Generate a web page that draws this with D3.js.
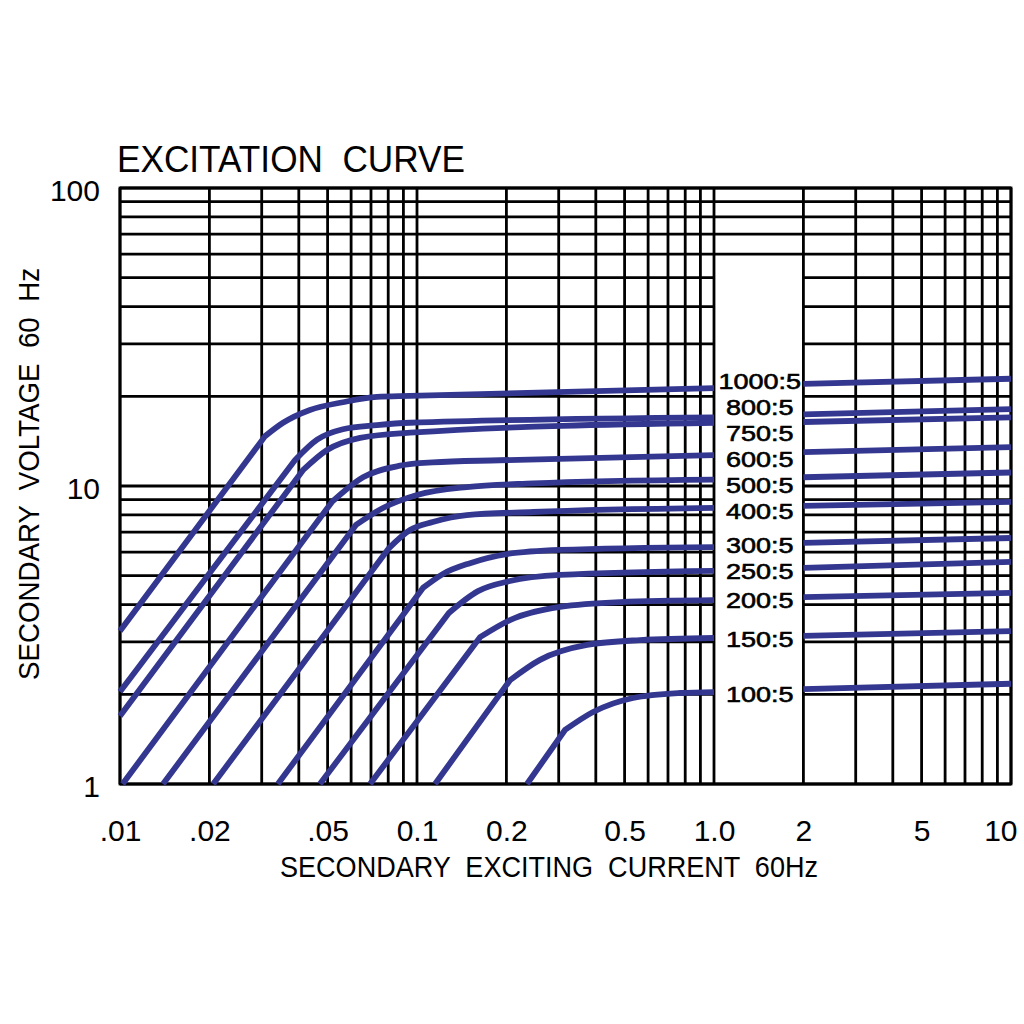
<!DOCTYPE html>
<html>
<head>
<meta charset="utf-8">
<script src="https://cdn.jsdelivr.net/npm/d3@7"></script>
<style>
  body { margin: 0; background: #fff; }
  text { font-family: "Liberation Sans", Arial, sans-serif; fill: #000; }
</style>
</head>
<body>
<svg id="chart" width="1024" height="1024"></svg>
<script>
// ---------------- DATA ----------------
const ratios = ["1000:5", "800:5", "750:5", "600:5", "500:5", "400:5", "300:5", "250:5", "200:5", "150:5", "100:5"];

// [secondary exciting current (A), secondary voltage (V)]; 2nd point = knee
const curve1000 = [[0.01, 3.26], [0.0308, 14.7], [0.0354, 16.3], [0.0436, 18.0], [0.0563, 19.1], [0.0733, 19.9], [0.0947, 20.05], [1, 21.3], [2, 22.0], [10, 22.9]];
const curve800  = [[0.01, 2.04], [0.0388, 12.2], [0.0461, 14.3], [0.0563, 15.5], [0.0733, 16.0], [0.0947, 16.3], [1, 17.0], [2, 17.4], [10, 18.1]];
const curve750  = [[0.01, 1.69], [0.0413, 11.3], [0.0498, 13.2], [0.0643, 14.5], [0.0947, 15.1], [1, 16.3], [2, 16.4], [10, 17.0]];
const curve600  = [[0.0102, 1], [0.0517, 8.84], [0.0658, 10.7], [0.0877, 11.7], [0.113, 12.0], [0.19, 12.2], [1, 12.7], [2, 13.0], [10, 13.5]];
const curve500  = [[0.01396, 1], [0.0623, 7.40], [0.0768, 8.44], [0.1, 9.33], [0.147, 9.92], [0.246, 10.2], [1, 10.5], [2, 10.7], [10, 11.1]];
const curve400  = [[0.0206, 1], [0.0805, 6.19], [0.0947, 7.12], [0.113, 7.57], [0.147, 7.99], [0.246, 8.18], [1, 8.44], [2, 8.57], [10, 8.84]];
const curve300  = [[0.034, 1], [0.1047, 4.55], [0.1223, 5.07], [0.1509, 5.51], [0.2009, 5.91], [0.303, 6.10], [1, 6.24], [2, 6.44], [10, 6.69]];
const curve250  = [[0.0471, 1], [0.128, 3.75], [0.1605, 4.44], [0.2056, 4.80], [0.303, 5.03], [1, 5.19], [2, 5.31], [10, 5.56]];
const curve200  = [[0.0695, 1], [0.163, 3.11], [0.2056, 3.55], [0.303, 3.93], [0.4826, 4.08], [1, 4.14], [2, 4.24], [10, 4.38]];
const curve150  = [[0.115, 1], [0.2056, 2.23], [0.2595, 2.61], [0.3736, 2.93], [0.563, 3.04], [1, 3.09], [2, 3.14], [10, 3.26]];
const curve100  = [[0.2346, 1], [0.315, 1.518], [0.3915, 1.744], [0.5337, 1.944], [0.768, 2.02], [1, 2.035], [2, 2.08], [10, 2.17]];

const seriesValues = [curve1000, curve800, curve750, curve600, curve500, curve400, curve300, curve250, curve200, curve150, curve100];

const xTickValues = [0.01, 0.02, 0.05, 0.1, 0.2, 0.5, 1, 2, 5, 10];
const xTickLabels = [".01", ".02", ".05", "0.1", "0.2", "0.5", "1.0", "2", "5", "10"];
const yTickValues = [1, 10, 100];
const yTickLabels = ["1", "10", "100"];

const titleText = "EXCITATION  CURVE";
const xTitleText = "SECONDARY  EXCITING  CURRENT  60Hz";
const yTitleText = "SECONDARY  VOLTAGE  60  Hz";

// ---------------- LAYOUT ----------------
const L = 120, R = 1011, T = 188, B = 784;
const gapFrom = 1, gapTo = 2, gapTop = 60;   // label column in the grid
const labelNudge = { "1000:5": -7, "800:5": -10, "750:5": 10, "600:5": 4, "500:5": 5, "400:5": 3, "300:5": -2, "150:5": 1, "100:5": 2 };
const labelSize = 22.5, labelGap = 26;
const curveColor = "#34378f";

const svg = d3.select("#chart");
const x = d3.scaleLog().domain([0.01, 10]).range([L, R]);
const y = d3.scaleLog().domain([1, 100]).range([B, T]);

// ---------------- GRID ----------------
const grid = svg.append("g").attr("stroke", "#000").attr("stroke-width", 2.8).attr("fill", "none");

x.ticks().forEach(v => {
  grid.append("line").attr("x1", x(v)).attr("x2", x(v)).attr("y1", T).attr("y2", B);
});
y.ticks().forEach(v => {
  if (v >= gapTop || v === 1) {
    grid.append("line").attr("x1", L).attr("x2", R).attr("y1", y(v)).attr("y2", y(v));
  } else {
    grid.append("line").attr("x1", L).attr("x2", x(gapFrom)).attr("y1", y(v)).attr("y2", y(v));
    grid.append("line").attr("x1", x(gapTo)).attr("x2", R).attr("y1", y(v)).attr("y2", y(v));
  }
});
grid.append("rect").attr("x", L).attr("y", T).attr("width", R - L).attr("height", B - T);

// ---------------- CURVES ----------------
const bend = d3.line().x(d => x(d[0])).y(d => y(d[1])).curve(d3.curveMonotoneX);
const straight = d3.line().x(d => x(d[0])).y(d => y(d[1]));
const curves = svg.append("g").attr("fill", "none").attr("stroke", curveColor)
  .attr("stroke-width", 5.8).attr("stroke-linejoin", "round");

seriesValues.forEach(pts => {
  const left = pts.filter(d => d[0] <= gapFrom);
  const right = pts.filter(d => d[0] >= gapTo);
  const d = straight(left.slice(0, 2)) + bend(left.slice(1)).replace(/^M/, "L");
  curves.append("path").attr("d", d);
  curves.append("path").attr("d", straight(right));
});

// ---------------- CURVE LABELS ----------------
const xMid = (x(gapFrom) + x(gapTo)) / 2;
let prevY = -Infinity;
ratios.forEach((r, i) => {
  const p = seriesValues[i].find(d => d[0] === gapFrom);
  let ly = y(p[1]) + (labelNudge[r] || 0);
  if (ly < prevY + labelGap) ly = prevY + labelGap;
  prevY = ly;
  const t = svg.append("text")
    .attr("x", xMid + 1)
    .attr("y", ly)
    .attr("dy", "0.36em")
    .attr("text-anchor", "middle")
    .attr("font-size", labelSize)
    .attr("stroke", "#000").attr("stroke-width", 0.6)
    .text(r);
  const w = t.node().getComputedTextLength();
  t.attr("textLength", w * 1.2).attr("lengthAdjust", "spacingAndGlyphs");
});

// ---------------- AXES (labels only) ----------------
const xAxis = d3.axisBottom(x).tickValues(xTickValues)
  .tickFormat((d, i) => xTickLabels[i]).tickSize(0).tickPadding(0);
const gx = svg.append("g").attr("transform", `translate(0,${B})`).call(xAxis);
gx.select(".domain").remove();
gx.selectAll("text").attr("font-size", 30).attr("y", 57).attr("dy", 0)
  .attr("font-family", '"Liberation Sans", Arial, sans-serif').attr("fill", "#000");
gx.selectAll(".tick").filter(d => d === 10).select("text")
  .attr("text-anchor", "end").attr("x", 6);

const yAxis = d3.axisLeft(y).tickValues(yTickValues)
  .tickFormat((d, i) => yTickLabels[i]).tickSize(0).tickPadding(0);
const gy = svg.append("g").attr("transform", `translate(100,0)`).call(yAxis);
gy.select(".domain").remove();
gy.selectAll("text").attr("font-size", 30).attr("x", 0).attr("dy", "0.42em")
  .attr("font-family", '"Liberation Sans", Arial, sans-serif').attr("fill", "#000");

// ---------------- TITLES ----------------
svg.append("text").attr("x", 117).attr("y", 172)
  .attr("font-size", 37).style("white-space", "pre")
  .attr("textLength", 348).attr("lengthAdjust", "spacingAndGlyphs")
  .text(titleText);

svg.append("text").attr("x", 280).attr("y", 877)
  .attr("font-size", 30).style("white-space", "pre")
  .attr("textLength", 538).attr("lengthAdjust", "spacingAndGlyphs")
  .text(xTitleText);

svg.append("text").attr("transform", "translate(39,680) rotate(-90)")
  .attr("x", 0).attr("y", 0)
  .attr("font-size", 30).style("white-space", "pre")
  .attr("textLength", 412).attr("lengthAdjust", "spacingAndGlyphs")
  .text(yTitleText);
</script>
</body>
</html>
